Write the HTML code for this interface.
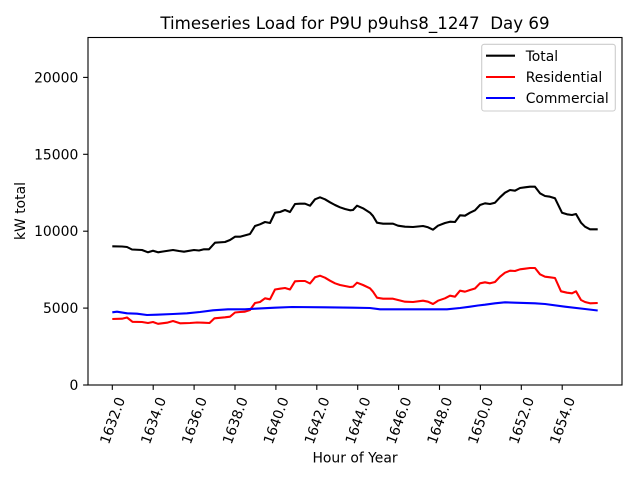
<!DOCTYPE html>
<html><head><meta charset="utf-8"><style>
html,body{margin:0;padding:0;background:#fff;}
svg{display:block;}
text{font-family:"DejaVu Sans","Liberation Sans",sans-serif;fill:#000;}
</style></head><body>
<svg width="640" height="480" viewBox="0 0 640 480" xmlns="http://www.w3.org/2000/svg">
<rect x="0" y="0" width="640" height="480" fill="#fff"/>
<text x="355" y="29" font-size="16.67" text-anchor="middle">Timeseries Load for P9U p9uhs8_1247&#160; Day 69</text>
<g fill="none" stroke-width="2.08" stroke-linejoin="round">
<polyline stroke="#000" points="112.3,246.3 122,246.5 127,247 132,249.5 142,250 148,252.3 153,250.7 158,252.3 163,251.5 173,250 179,251 184,251.7 194,250 199,250.5 204,249.3 209,249.3 215,242.7 225,242 230,240 235,236.7 240,236.7 250,234 255,226 260,224.3 265,222 270,223 275,212.7 280,212 285,210 290,212 295,204 300,203.7 305,203.7 310,205.7 315,199.3 320,197.3 325,199.3 330,202.3 335,205 340,207.3 345,209 350,210.3 353,210 357,205.7 363,208.3 370,212.7 373,216 377,222.7 383,223.7 393,223.7 398,225.7 405,226.7 413,227 423,226 428,227.3 433,229.7 438,225.7 445,223 450,221.7 455,222 460,215.3 465,215.7 470,212.7 475,210.3 480,205 485,203.3 490,204 495,202.7 500,197.3 505,192.7 510,190 515,190.7 520,188 525,187.3 530,186.7 535,186.7 540,193.3 545,196 550,196.7 555,198.3 562,212.7 567,214.3 572,215 576,214 581,222.7 585,226.7 590,229.3 597.7,229.3"/>
<polyline stroke="#ff0000" points="112.3,319 122,318.7 127,317.5 132.5,321.8 142,322 148,323 153,322 158,323.8 167,322.7 173,321 180,323.3 190,323 197,322.5 203,322.7 209.5,323 214.5,318.3 225,317.3 230,316.7 235,312.5 240,312 245,311.7 250,310 255,303 260,302 265,298.3 270,299.3 275,289.5 280,288.7 285,288 290,289.5 295,281.3 300,281 305,281 310,283.5 315,277.3 320,275.7 325,277.7 330,280.7 335,283.3 340,285 345,286 350,287 353,286.7 357,282.7 363,285 370,288.3 373,291.7 377,297.7 383,298.7 393,298.7 398,300 405,301.7 413,302 423,300.7 428,301.7 433,304 438,300.7 445,298.3 450,295.7 455,296.7 460,290.7 465,291.7 470,290 475,288.5 480,283.3 485,282.3 490,283.3 495,282 500,276.7 505,272.7 510,270.7 515,271 520,269.3 525,268.7 530,268 535,268 540,274.3 545,276.7 550,277.3 555,278 561,291.3 567,292.7 572,293.3 576,291.3 581,300 585,302 590,303.3 597.7,303"/>
<polyline stroke="#0000ff" points="112.3,312.3 117,311.7 127,313.3 137,313.7 147,315 157,314.7 173,314 187,313.3 200,312 213,310.3 228,309.3 245,309.3 255,308.7 275,307.7 292,307 325,307.3 353,307.7 370,308 380,309.3 393,309.3 417,309.3 447,309.3 460,308 470,306.7 478,305.5 485,304.7 495,303.3 505,302.3 515,302.7 535,303.3 545,304 565,306.7 585,309 597.7,310.5"/>
</g>
<rect x="88" y="37.5" width="534" height="347.5" fill="none" stroke="#000" stroke-width="1.1"/>
<g stroke="#000" stroke-width="1.1">
<line x1="83.1" y1="385" x2="88" y2="385"/>
<line x1="83.1" y1="308.1" x2="88" y2="308.1"/>
<line x1="83.1" y1="231.2" x2="88" y2="231.2"/>
<line x1="83.1" y1="154.3" x2="88" y2="154.3"/>
<line x1="83.1" y1="77.4" x2="88" y2="77.4"/>
<line x1="112.3" y1="385" x2="112.3" y2="389.9"/>
<line x1="153.2" y1="385" x2="153.2" y2="389.9"/>
<line x1="194.1" y1="385" x2="194.1" y2="389.9"/>
<line x1="235" y1="385" x2="235" y2="389.9"/>
<line x1="275.9" y1="385" x2="275.9" y2="389.9"/>
<line x1="316.8" y1="385" x2="316.8" y2="389.9"/>
<line x1="357.7" y1="385" x2="357.7" y2="389.9"/>
<line x1="398.6" y1="385" x2="398.6" y2="389.9"/>
<line x1="439.5" y1="385" x2="439.5" y2="389.9"/>
<line x1="480.4" y1="385" x2="480.4" y2="389.9"/>
<line x1="521.3" y1="385" x2="521.3" y2="389.9"/>
<line x1="562.2" y1="385" x2="562.2" y2="389.9"/>
</g>
<g font-size="13.9" text-anchor="end">
<text x="78.3" y="390">0</text>
<text x="78.3" y="313.1">5000</text>
<text x="78.3" y="236.2">10000</text>
<text x="78.3" y="159.3">15000</text>
<text x="78.3" y="82.4">20000</text>
</g>
<g font-size="13.9" text-anchor="middle">
<text transform="translate(112.3,420.5) rotate(-70)" y="5">1632.0</text>
<text transform="translate(153.2,420.5) rotate(-70)" y="5">1634.0</text>
<text transform="translate(194.1,420.5) rotate(-70)" y="5">1636.0</text>
<text transform="translate(235,420.5) rotate(-70)" y="5">1638.0</text>
<text transform="translate(275.9,420.5) rotate(-70)" y="5">1640.0</text>
<text transform="translate(316.8,420.5) rotate(-70)" y="5">1642.0</text>
<text transform="translate(357.7,420.5) rotate(-70)" y="5">1644.0</text>
<text transform="translate(398.6,420.5) rotate(-70)" y="5">1646.0</text>
<text transform="translate(439.5,420.5) rotate(-70)" y="5">1648.0</text>
<text transform="translate(480.4,420.5) rotate(-70)" y="5">1650.0</text>
<text transform="translate(521.3,420.5) rotate(-70)" y="5">1652.0</text>
<text transform="translate(562.2,420.5) rotate(-70)" y="5">1654.0</text>
</g>
<text x="355" y="462.5" font-size="13.9" text-anchor="middle">Hour of Year</text>
<text transform="translate(25,211) rotate(-90)" font-size="13.9" text-anchor="middle">kW total</text>
<rect x="481.7" y="44.3" width="133.6" height="66.7" rx="2.5" ry="2.5" fill="#fff" fill-opacity="0.8" stroke="#cccccc" stroke-width="1.1"/>
<g stroke-width="2.08">
<line x1="486" y1="55.7" x2="515" y2="55.7" stroke="#000"/>
<line x1="486" y1="77" x2="515" y2="77" stroke="#ff0000"/>
<line x1="486" y1="98" x2="515" y2="98" stroke="#0000ff"/>
</g>
<g font-size="13.9">
<text x="525.7" y="60.8">Total</text>
<text x="525.7" y="82.1">Residential</text>
<text x="525.7" y="103.1">Commercial</text>
</g>
</svg>
</body></html>
